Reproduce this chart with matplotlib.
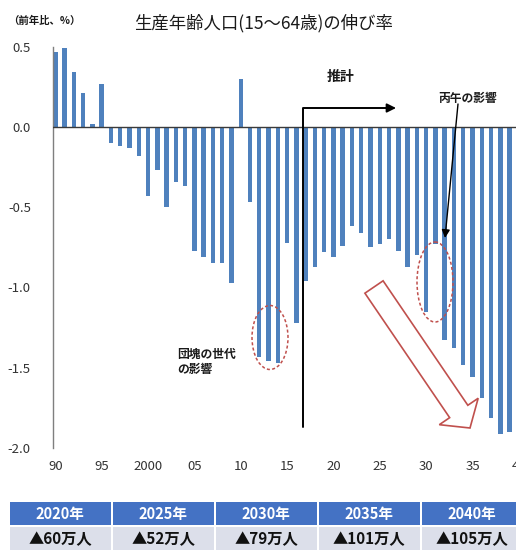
import matplotlib
matplotlib.use("Agg")
import matplotlib.pyplot as plt
import matplotlib.transforms as mtransforms
from matplotlib.patches import Ellipse, Polygon, FancyArrowPatch, Rectangle
import numpy as np

plt.rcParams['font.family'] = ['Noto Sans CJK JP', 'DejaVu Sans']

# ---------------- data ----------------
years = list(range(1990, 2040))
growth = [0.47, 0.49, 0.34, 0.21, 0.02, 0.27,
          -0.10, -0.12, -0.13, -0.18, -0.43, -0.27, -0.50, -0.34, -0.37,
          -0.77, -0.81, -0.85, -0.85, -0.97, 0.30, -0.47, -1.43, -1.46, -1.47,
          -0.72, -1.22, -0.96, -0.87, -0.78, -0.81, -0.74, -0.62, -0.66, -0.75,
          -0.73, -0.70, -0.77, -0.87, -0.80, -1.15, -0.73, -1.33, -1.38, -1.48,
          -1.56, -1.69, -1.81, -1.91, -1.90]
xtick_years = [1990, 1995, 2000, 2005, 2010, 2015, 2020, 2025, 2030, 2035, 2040]
xtick_labels = ['90', '95', '2000', '05', '10', '15', '20', '25', '30', '35', '40']
ytick_values = [0.5, 0.0, -0.5, -1.0, -1.5, -2.0]
ytick_labels = ['0.5', '0.0', '-0.5', '-1.0', '-1.5', '-2.0']
table_years = ['2020年', '2025年', '2030年', '2035年', '2040年']
table_decline = [60, 52, 79, 101, 105]

title = '生産年齢人口(15〜64歳)の伸び率'
unit_label = '（前年比、%）'

W, H = 516, 550
fig = plt.figure(figsize=(W / 100, H / 100), dpi=100)
px = mtransforms.Affine2D().scale(1, -1).translate(0, H)  # pixel coords from top-left

def ff(x, y):
    return (x / W, 1 - y / H)

# axes placement (extends past right edge to mimic crop)
ax_left, ax_right, ax_top, ax_bottom = 53, 524.4, 46.7, 448
ax = fig.add_axes([ax_left / W, 1 - ax_bottom / H, (ax_right - ax_left) / W, (ax_bottom - ax_top) / H])

bar_color = '#4F81BD'
ax.bar(years, growth, width=0.48, color=bar_color, zorder=2)
ax.axhline(0, color='#3a3a3a', lw=1.0, zorder=3)

ax.set_xlim(1989.75, 2040.6)
ax.set_ylim(-2.0, 0.5)
ax.set_xticks(xtick_years)
ax.set_xticklabels(xtick_labels)
ax.set_yticks(ytick_values)
ax.set_yticklabels(ytick_labels)
ax.tick_params(axis='both', length=0, labelsize=9.5, colors='#333333')
ax.tick_params(axis='x', pad=9)
ax.tick_params(axis='y', pad=16)
for s in ['top', 'right', 'bottom']:
    ax.spines[s].set_visible(False)
ax.spines['left'].set_color('#7f7f7f')
ax.spines['left'].set_linewidth(1.0)

# titles
fig.text(*ff(263, 23), title, ha='center', va='center', fontsize=12.5, color='#1a1a1a')
fig.text(*ff(8, 21), unit_label, ha='left', va='center', fontsize=7.5, color='#1a1a1a',
         fontweight='bold')

# annotations
fig.text(*ff(341, 77), '推計', ha='center', va='center', fontsize=10, fontweight='bold',
         color='#1a1a1a')
fig.text(*ff(468, 98), '丙午の影響', ha='center', va='center', fontsize=8.5, fontweight='bold',
         color='#1a1a1a')
fig.text(*ff(177, 362), '団塊の世代\nの影響', ha='left', va='center', fontsize=8.5,
         fontweight='bold', color='#1a1a1a', linespacing=1.25)

from matplotlib.path import Path
arr1 = FancyArrowPatch(path=Path([(303, 427), (303, 108), (396, 108)]),
                       arrowstyle='-|>', mutation_scale=13, color='black', lw=1.4,
                       transform=px, zorder=5)
fig.add_artist(arr1)
arr2 = FancyArrowPatch((458, 104), (445, 238), arrowstyle='-|>', mutation_scale=12,
                       color='black', lw=1.0, transform=px, zorder=5, shrinkA=0, shrinkB=0)
fig.add_artist(arr2)

red = '#C0504D'
for cx, cy, w, h in [(270, 337.5, 36, 64), (435, 282, 36, 80)]:
    e = Ellipse((cx, cy), w, h, transform=px, fill=False, edgecolor=red,
                linestyle=(0, (2, 1.5)), lw=1.1, zorder=6)
    fig.add_artist(e)

# hollow red arrow
T = np.array([374.0, 287.0])
P = np.array([470.0, 428.0])
u = (P - T) / np.linalg.norm(P - T)
n = np.array([u[1], -u[0]])
w, hw, hl = 11.0, 23.5, 20.0
B = P - hl * u
verts = [T + w * n, B + w * n, B + hw * n, P, B - hw * n, B - w * n, T - w * n]
poly = Polygon(verts, closed=True, facecolor='white', edgecolor=red, lw=1.2,
               transform=px, zorder=6)
fig.add_artist(poly)

# table
for i, (yl, d) in enumerate(zip(table_years, table_decline)):
    x0 = 9.5 + i * 103
    r1 = Rectangle((x0, 502), 101, 23, transform=px, facecolor='#4472C4', edgecolor='none')
    r2 = Rectangle((x0, 527), 101, 25, transform=px, facecolor='#DCDFEA', edgecolor='none')
    fig.add_artist(r1)
    fig.add_artist(r2)
    fig.text(*ff(x0 + 50.5, 513.5), yl, ha='center', va='center', fontsize=10.5,
             fontweight='bold', color='white')
    fig.text(*ff(x0 + 50.5, 539.5), '▲{}万人'.format(d), ha='center', va='center',
             fontsize=11, fontweight='bold', color='#111111')

fig.savefig('out.png', dpi=100)
